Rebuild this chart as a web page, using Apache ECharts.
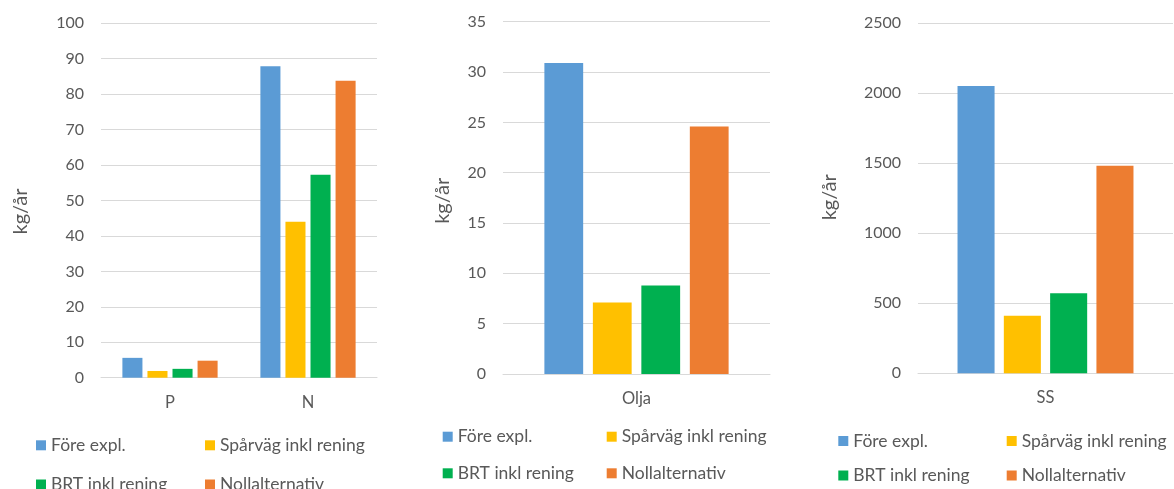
<!DOCTYPE html>
<html>
<head>
<meta charset="utf-8">
<script src="https://cdn.jsdelivr.net/npm/echarts@6/dist/echarts.min.js"></script>
<style>html,body{margin:0;padding:0;background:#fff}#c{width:1174px;height:489px}</style>
</head>
<body>
<div id="c"></div>
<script>
// ---- data ----
const seriesNames = ['Före expl.', 'Spårväg inkl rening', 'BRT inkl rening', 'Nollalternativ'];
const colors = ['#5B9BD5', '#FFC000', '#00B050', '#ED7D31'];
const yName = 'kg/år';

const categories1 = ['P', 'N'];
const fore1 = [5.6, 87.9];
const sparvag1 = [1.9, 44.0];
const brt1 = [2.5, 57.3];
const noll1 = [4.8, 83.8];

const categories2 = ['Olja'];
const fore2 = [30.9];
const sparvag2 = [7.1];
const brt2 = [8.8];
const noll2 = [24.6];

const categories3 = ['SS'];
const fore3 = [2052];
const sparvag3 = [411];
const brt3 = [571];
const noll3 = [1483];

const yMax = [100, 35, 2500];
const yInterval = [10, 5, 500];

// ---- layout ----
const FONT = 'Lato';
const TXT = '#595959';
const GRIDC = '#d9d9d9';
const grids = [
  { left: 101, top: 23.3, width: 276, height: 354.4 },
  { left: 503, top: 21.7, width: 267, height: 352.3 },
  { left: 918, top: 23.3, width: 255, height: 350 }
];
const nameGaps = [70, 50, 78];
const namePads = [[0, 22, 0, 0], [0, 6, 0, 0], [0, 0, 0, 2]];
const cats = [categories1, categories2, categories3];
const vals = [
  [fore1, sparvag1, brt1, noll1],
  [fore2, sparvag2, brt2, noll2],
  [fore3, sparvag3, brt3, noll3]
];

const xAxis = [], yAxis = [], series = [];
for (let i = 0; i < 3; i++) {
  xAxis.push({
    type: 'category', gridIndex: i, data: cats[i],
    axisLine: { show: true, lineStyle: { color: GRIDC, width: 1 } },
    axisTick: { show: false },
    axisLabel: { color: TXT, fontFamily: FONT, fontSize: 16.5, margin: 16 }
  });
  yAxis.push({
    type: 'value', gridIndex: i, min: 0, max: yMax[i], interval: yInterval[i],
    name: yName, nameLocation: 'middle', nameRotate: 90, nameGap: nameGaps[i],
    nameTextStyle: { color: TXT, fontFamily: FONT, fontSize: 20, padding: namePads[i] },
    axisLine: { show: false }, axisTick: { show: false },
    axisLabel: { color: TXT, fontFamily: FONT, fontSize: 16, margin: 17, formatter: v => String(v) },
    splitLine: { lineStyle: { color: GRIDC, width: 1 } }
  });
  for (let s = 0; s < 4; s++) {
    series.push({
      type: 'bar', name: seriesNames[s], xAxisIndex: i, yAxisIndex: i,
      data: vals[i][s],
      barGap: '25%', barCategoryGap: '31%',
      itemStyle: { color: colors[s] },
      animation: false
    });
  }
}

// legend item positions per panel: [col1 x, col2 x, row1 top, row2 top]
const legendDefs = [
  [36, 205, 435.3, 474.5],
  [442.7, 606.7, 426.7, 463.3],
  [838.3, 1006.7, 431, 465.5]
];
const legend = [];
legendDefs.forEach(d => {
  const cells = [[0, d[0], d[2]], [1, d[1], d[2]], [2, d[0], d[3]], [3, d[1], d[3]]];
  cells.forEach(c => {
    legend.push({
      data: [seriesNames[c[0]]], left: c[1], top: c[2],
      itemWidth: 10, itemHeight: 10, icon: 'rect', padding: 0,
      selectedMode: false,
      textStyle: { color: TXT, fontFamily: FONT, fontSize: 17.5, lineHeight: 20 }
    });
  });
});

const chart = echarts.init(document.getElementById('c'), null, { renderer: 'canvas' });
chart.setOption({
  animation: false,
  grid: grids,
  xAxis, yAxis, series, legend
});
</script>
</body>
</html>
